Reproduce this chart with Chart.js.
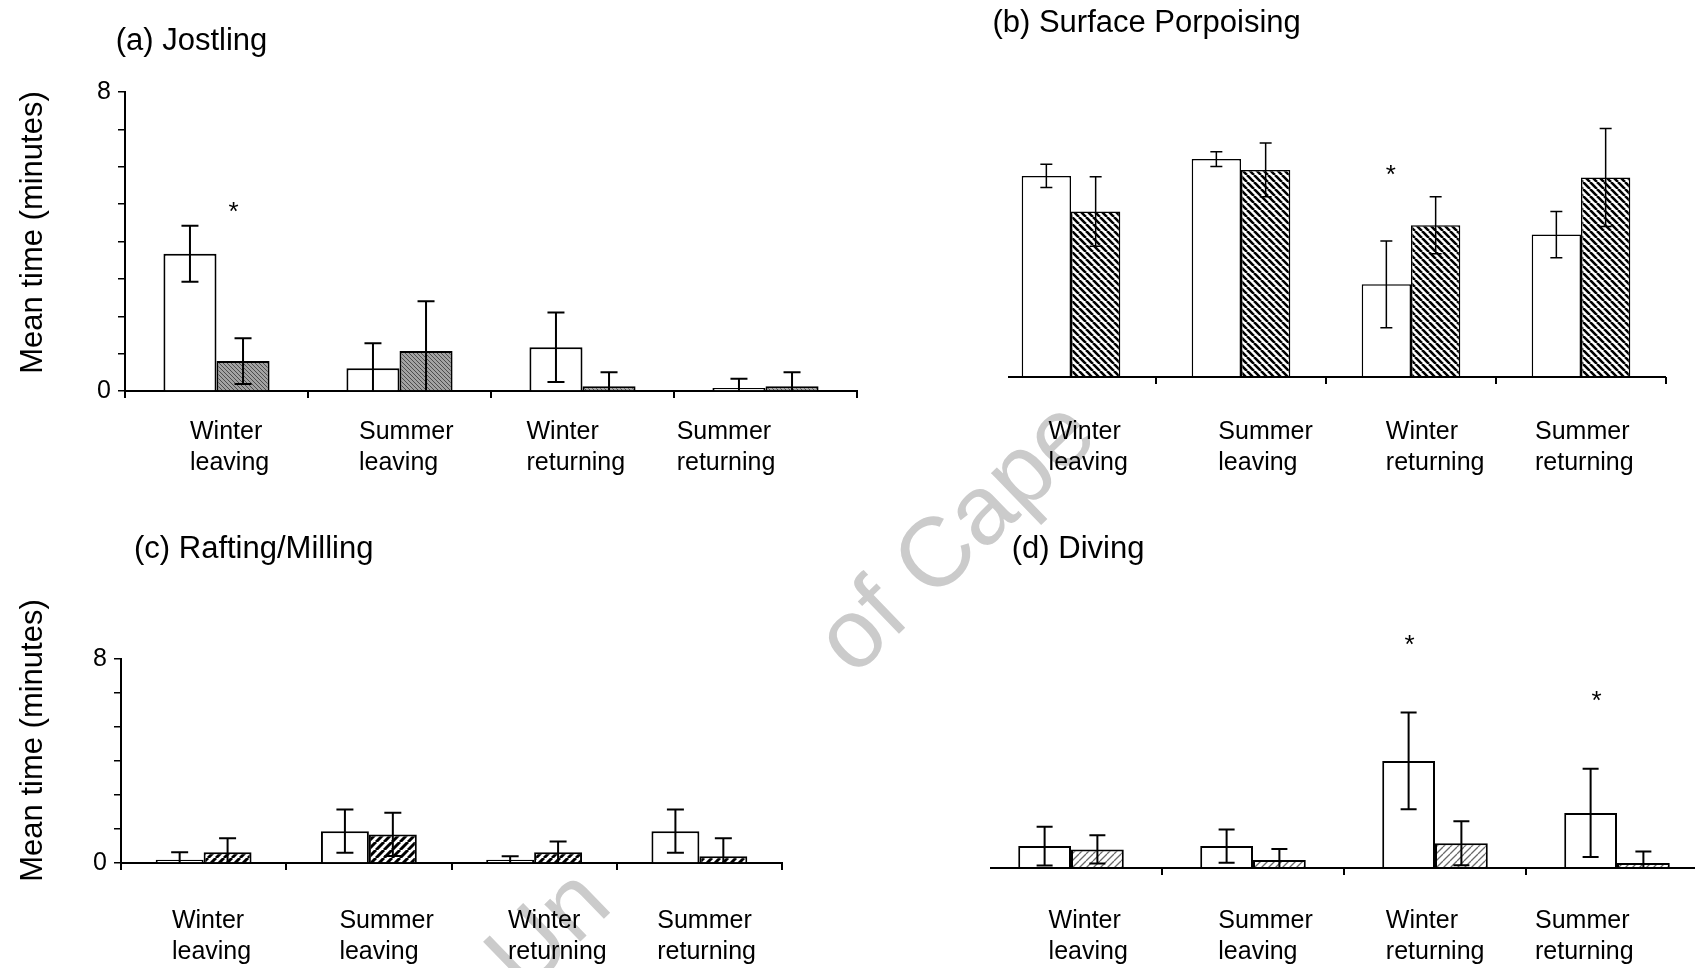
<!DOCTYPE html>
<html>
<head>
<meta charset="utf-8">
<script src="https://cdn.jsdelivr.net/npm/chart.js@4.4.1/dist/chart.umd.min.js"></script>
<style>
  html, body { margin: 0; padding: 0; background: #fff; width: 1695px; height: 968px; overflow: hidden; position: relative; }
  canvas.panel { position: absolute; }
  #mark {
    position: absolute; left: 501px; top: 922px;
    font: 98px "Liberation Sans", Arial, sans-serif; line-height: 98px;
    white-space: nowrap; color: #cbcbcb;
    transform-origin: 0 49px; transform: rotate(-44deg);
  }
  #mark .gap { color: transparent; }
</style>
</head>
<body>
<div id="mark"><span>Un</span><span class="gap">iversity </span><span>of Cape</span><span class="gap"> Town</span></div>
<canvas id="pA" class="panel"></canvas>
<canvas id="pB" class="panel"></canvas>
<canvas id="pC" class="panel"></canvas>
<canvas id="pD" class="panel"></canvas>
<script>
// Categories (two-line labels) and the labelled y ticks
const CATEGORIES = [['Winter', 'leaving'], ['Summer', 'leaving'], ['Winter', 'returning'], ['Summer', 'returning']];
const Y_LABELED_TICKS = [0, 8];

// (a) Jostling: mean time (minutes) and error
const jostlingOpen = [3.67, 0.61, 1.17, 0.08];
const jostlingOpenSE = [0.75, 0.67, 0.93, 0.25];
const jostlingShaded = [0.80, 1.07, 0.13, 0.13];
const jostlingShadedSE = [0.61, 1.33, 0.37, 0.37];

// (b) Surface Porpoising
const porpoisingOpen = [5.38, 5.83, 2.48, 3.81];
const porpoisingOpenSE = [0.31, 0.20, 1.16, 0.62];
const porpoisingShaded = [4.43, 5.54, 4.06, 5.34];
const porpoisingShadedSE = [0.93, 0.72, 0.76, 1.31];

// (c) Rafting/Milling
const raftingOpen = [0.13, 1.25, 0.13, 1.25];
const raftingOpenSE = [0.29, 0.85, 0.13, 0.85];
const raftingShaded = [0.42, 1.12, 0.42, 0.26];
const raftingShadedSE = [0.55, 0.85, 0.42, 0.71];

// (d) Diving
const divingOpen = [0.86, 0.86, 4.20, 2.16];
const divingOpenSE = [0.76, 0.65, 1.90, 1.73];
const divingShaded = [0.73, 0.31, 0.97, 0.20];
const divingShadedSE = [0.55, 0.44, 0.86, 0.45];

// Significance markers: dataset, category index, height (minutes)
const jostlingSig = [{ ds: 1, i: 0, v: 4.96 }];
const porpoisingSig = [{ ds: 0, i: 2, v: 5.60 }];
const divingSig = [{ ds: 0, i: 2, v: 9.03 }, { ds: 0, i: 3, v: 6.82 }];

const FONT = '"Liberation Sans", Arial, sans-serif';

// Layout and styling of each panel (page coordinates)
const PANELS = [
  {
    id: 'pA', title: '(a) Jostling',
    open: jostlingOpen, openSE: jostlingOpenSE, shaded: jostlingShaded, shadedSE: jostlingShadedSE, sig: jostlingSig,
    sigDx: [-9.5],
    fill: { dir: 'back', size: 4, bg: '#a2a2a2', fg: '#4c4c4c', lw: 1 },
    box: [0, 0, 880, 490], area: [125, 92, 857, 391],
    yAxis: true, yTickCount: 9, axisStart: null, hideFirstTick: false,
    titlePos: [115.7, 41], yTitlePos: [33.5, 232.5],
    labelDx: [-26.5, -40.5, -56, -88.8], labelDy: [41.4, 71.7],
    barBorder: 2, stroke: 2, cap: 17
  },
  {
    id: 'pB', title: '(b) Surface Porpoising',
    open: porpoisingOpen, openSE: porpoisingOpenSE, shaded: porpoisingShaded, shadedSE: porpoisingShadedSE, sig: porpoisingSig,
    sigDx: [4.4],
    fill: { dir: 'back', size: 7, bg: '#ffffff', fg: '#000000', lw: 2.6 },
    box: [960, 0, 735, 490], area: [986, 78, 1666, 377],
    yAxis: false, yTickCount: 9, axisStart: 1008, hideFirstTick: true,
    titlePos: [992.4, 23.8], yTitlePos: null,
    labelDx: [-22.4, -22.7, -25.2, -46], labelDy: [55.4, 85.7],
    barBorder: 1.5, stroke: 1.5, cap: 12
  },
  {
    id: 'pC', title: '(c) Rafting/Milling',
    open: raftingOpen, openSE: raftingOpenSE, shaded: raftingShaded, shadedSE: raftingShadedSE, sig: [],
    sigDx: [],
    fill: { dir: 'fwd', size: 8, bg: '#ffffff', fg: '#000000', lw: 3 },
    box: [0, 490, 880, 478], area: [121, 659, 782, 863],
    yAxis: true, yTickCount: 7, axisStart: null, hideFirstTick: false,
    titlePos: [134, 549], yTitlePos: [33.5, 740.5],
    labelDx: [-31.7, -29.5, -26.1, -42.1], labelDy: [58, 89.4],
    barBorder: 2, stroke: 2, cap: 17
  },
  {
    id: 'pD', title: '(d) Diving',
    open: divingOpen, openSE: divingOpenSE, shaded: divingShaded, shadedSE: divingShadedSE, sig: divingSig,
    sigDx: [1, 6],
    fill: { dir: 'fwd', size: 7, bg: '#ffffff', fg: '#6a6a6a', lw: 1.3 },
    box: [960, 490, 760, 478], area: [980, 664, 1708, 868],
    yAxis: false, yTickCount: 7, axisStart: 990, hideFirstTick: true,
    titlePos: [1011.8, 549], yTitlePos: null,
    labelDx: [-22.4, -34.7, -49.2, -82], labelDy: [53, 84.4],
    barBorder: 2, stroke: 2, cap: 16
  }
];

function makeHatch(ctx, f) {
  const s = f.size;
  const tile = document.createElement('canvas');
  tile.width = s; tile.height = s;
  const g = tile.getContext('2d');
  g.fillStyle = f.bg; g.fillRect(0, 0, s, s);
  g.strokeStyle = f.fg; g.lineWidth = f.lw;
  g.beginPath();
  for (let k = -1; k <= 1; k++) {
    if (f.dir === 'back') { g.moveTo(k * s, 0); g.lineTo(k * s + s, s); }
    else { g.moveTo(k * s, s); g.lineTo(k * s + s, 0); }
  }
  g.stroke();
  return ctx.createPattern(tile, 'repeat');
}

// Error bars, baseline, titles, category labels and significance stars
function decorPlugin(p) {
  const ox = p.box[0], oy = p.box[1];
  return {
    id: 'decor',
    afterDatasetsDraw(chart) {
      const ctx = chart.ctx, y = chart.scales.y, area = chart.chartArea;
      ctx.save();
      ctx.strokeStyle = '#000';
      ctx.lineWidth = p.stroke;
      [p.openSE, p.shadedSE].forEach((se, di) => {
        const vals = chart.data.datasets[di].data;
        chart.getDatasetMeta(di).data.forEach((bar, i) => {
          const hi = vals[i] + se[i], lo = vals[i] - se[i];
          const yh = y.getPixelForValue(hi);
          const yl = y.getPixelForValue(Math.max(lo, 0));
          ctx.beginPath();
          ctx.moveTo(bar.x, yh); ctx.lineTo(bar.x, yl);
          ctx.moveTo(bar.x - p.cap / 2, yh); ctx.lineTo(bar.x + p.cap / 2, yh);
          if (lo > 0) { ctx.moveTo(bar.x - p.cap / 2, yl); ctx.lineTo(bar.x + p.cap / 2, yl); }
          ctx.stroke();
        });
      });
      if (p.axisStart !== null) {
        const y0 = y.getPixelForValue(0);
        ctx.lineWidth = 2;
        ctx.beginPath();
        ctx.moveTo(p.axisStart - ox, y0);
        ctx.lineTo(area.right, y0);
        ctx.stroke();
      }
      ctx.restore();
    },
    afterDraw(chart) {
      const ctx = chart.ctx, x = chart.scales.x, y = chart.scales.y, area = chart.chartArea;
      ctx.save();
      ctx.fillStyle = '#000';
      // panel title
      ctx.font = '31px ' + FONT;
      ctx.textAlign = 'left';
      ctx.textBaseline = 'middle';
      ctx.fillText(p.title, p.titlePos[0] - ox, p.titlePos[1] - oy);
      // category labels
      ctx.font = '25px ' + FONT;
      CATEGORIES.forEach((lines, i) => {
        const lx = x.getPixelForValue(i) + p.labelDx[i];
        lines.forEach((t, k) => ctx.fillText(t, lx, area.bottom + p.labelDy[k]));
      });
      // y-axis title
      if (p.yTitlePos) {
        ctx.save();
        ctx.translate(p.yTitlePos[0] - ox, p.yTitlePos[1] - oy);
        ctx.rotate(-Math.PI / 2);
        ctx.textAlign = 'center';
        ctx.font = '31px ' + FONT;
        ctx.fillText('Mean time (minutes)', 0, 0);
        ctx.restore();
      }
      // significance stars
      ctx.font = '26px ' + FONT;
      ctx.textAlign = 'center';
      ctx.textBaseline = 'alphabetic';
      p.sig.forEach((s, k) => {
        const bar = chart.getDatasetMeta(s.ds).data[s.i];
        ctx.fillText('*', bar.x + p.sigDx[k], y.getPixelForValue(s.v) + 0.57 * 26);
      });
      ctx.restore();
    }
  };
}

PANELS.forEach(p => {
  const cv = document.getElementById(p.id);
  const [bl, bt, bw, bh] = p.box;
  const [al, at, ar, ab] = p.area;
  cv.width = bw; cv.height = bh;
  cv.style.left = bl + 'px'; cv.style.top = bt + 'px';
  cv.style.width = bw + 'px'; cv.style.height = bh + 'px';
  const ctx = cv.getContext('2d');
  const pattern = makeHatch(ctx, p.fill);
  const yWidth = al - bl;
  const xHeight = bt + bh - ab;

  const yScale = {
    display: p.yAxis, min: 0, max: 8,
    grid: { drawOnChartArea: false, drawTicks: true, tickLength: 7, lineWidth: 1.5, color: '#000' },
    border: { display: true, color: '#000', width: 2 },
    ticks: {
      count: p.yTickCount, autoSkip: false, padding: 7, color: '#000',
      font: { family: FONT, size: 25 },
      callback: v => (Y_LABELED_TICKS.includes(v) ? String(v) : '')
    }
  };
  if (p.yAxis) yScale.afterFit = s => { s.width = yWidth; };

  new Chart(cv, {
    type: 'bar',
    data: {
      labels: CATEGORIES.map(c => c.join(' ')),
      datasets: [
        { data: p.open, backgroundColor: '#ffffff', borderColor: '#000', borderWidth: p.barBorder,
          borderSkipped: 'start', categoryPercentage: 0.58, barPercentage: 1.0 },
        { data: p.shaded, backgroundColor: pattern, borderColor: '#000', borderWidth: p.barBorder,
          borderSkipped: 'start', categoryPercentage: 0.58, barPercentage: 1.0 }
      ]
    },
    options: {
      responsive: false, animation: false, devicePixelRatio: 1, events: [],
      layout: { padding: { left: p.yAxis ? 0 : al - bl, top: at - bt, right: bl + bw - ar, bottom: 0 } },
      plugins: { legend: { display: false }, tooltip: { enabled: false }, title: { display: false } },
      scales: {
        x: {
          offset: true, z: 1,
          grid: {
            offset: true, drawOnChartArea: false, drawTicks: true, tickLength: 7, lineWidth: 2,
            color: c => (p.hideFirstTick && c.index === 0) ? 'rgba(0,0,0,0)' : '#000'
          },
          border: { display: p.axisStart === null, color: '#000', width: 2 },
          ticks: { display: false },
          afterFit: s => { s.height = xHeight; }
        },
        y: yScale
      }
    },
    plugins: [decorPlugin(p)]
  });
});
</script>
</body>
</html>
